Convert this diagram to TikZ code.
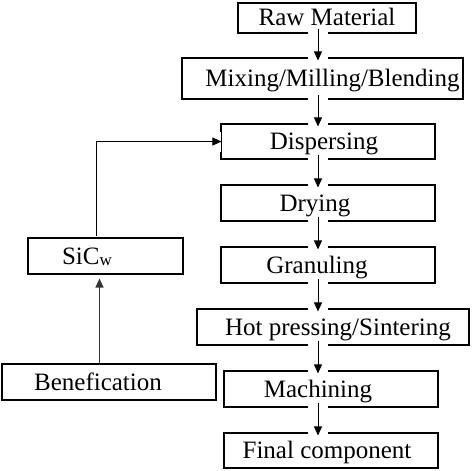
\documentclass[tikz,border=0pt]{standalone}
\usepackage{fontspec}
\setmainfont{Liberation Serif}
\usetikzlibrary{arrows.meta,calc}

\tikzset{
	stage/.style={draw, line width=1.1pt, inner sep=0pt, text height=16pt, text depth=0pt, font=\fontsize{25}{28}\selectfont},
	link/.style={-{Triangle[length=9pt,width=8pt]}, line width=0.8pt},
	whiteband/.style={preaction={draw=white, line width=20pt, -}},
	flow/.style={link, whiteband}
}

\begin{document}
\begin{tikzpicture}[line cap=butt,line join=miter,x=1pt,y=-1pt]
	\useasboundingbox (0,0) rectangle (472,471);
	% main process column
	\node[stage, minimum width=178pt, minimum height=30pt] (raw) at (327,18) {Raw Material};
	\node[stage, minimum width=281pt, minimum height=41pt] (mix) at (322.5,78.5) {\hspace*{20pt}Mixing/Milling/Blending};
	\node[stage, minimum width=214pt, minimum height=35pt] (disp) at (328,141.5) {\hspace*{-8pt}Dispersing};
	\node[stage, minimum width=214pt, minimum height=36pt] (dry) at (328,203) {\hspace*{-26pt}Drying};
	\node[stage, minimum width=214pt, minimum height=36pt] (gran) at (328,265) {\hspace*{-22pt}Granuling};
	\node[stage, minimum width=272pt, minimum height=36pt] (hot) at (333,327) {\hspace*{10pt}Hot pressing/Sintering};
	\node[stage, minimum width=214pt, minimum height=36pt] (mach) at (331,389) {\hspace*{-26pt}Machining};
	\node[stage, minimum width=214pt, minimum height=35pt] (final) at (331,450.5) {\hspace*{-8pt}Final component};
	% whisker branch
	\node[stage, minimum width=155pt, minimum height=36pt] (sic) at (105.5,256) {\hspace*{-37pt}SiC\raisebox{-1pt}{\fontsize{17}{17}\selectfont w}};
	\node[stage, minimum width=214pt, minimum height=36pt] (ben) at (109,382) {\hspace*{-22pt}Benefication};
	\coordinate (spine) at (318,0);

	\draw[flow] ($(raw.south -| spine)+(0,-5)$) -- ($(mix.north -| spine)+(0,3)$);
	\draw[flow] ($(mix.south -| spine)+(0,-5)$) -- ($(disp.north -| spine)+(0,3)$);
	\draw[flow] ($(disp.south -| spine)+(0,-5)$) -- ($(dry.north -| spine)+(0,3)$);
	\draw[flow] ($(dry.south -| spine)+(0,-5)$) -- ($(gran.north -| spine)+(0,3)$);
	\draw[flow] ($(gran.south -| spine)+(0,-5)$) -- ($(hot.north -| spine)+(0,3)$);
	\draw[flow] ($(hot.south -| spine)+(0,-5)$) -- ($(mach.north -| spine)+(0,3)$);
	\draw[flow] ($(mach.south -| spine)+(0,-5)$) -- ($(final.north -| spine)+(0,3)$);

	\draw[flow, line width=1pt] ($(sic.north)+(-9.5,-1)$) |- ($(disp.west)+(1,0)$);
	\draw[link, line width=1.2pt, draw=black!80, shorten >=4pt] ($(sic.south |- ben.north)+(-6,0)$) -- ($(sic.south)+(-6,0)$);
\end{tikzpicture}
\end{document}
